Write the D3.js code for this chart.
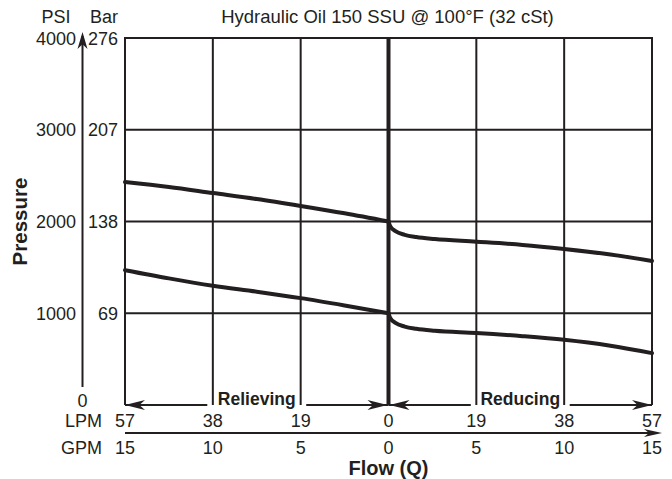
<!DOCTYPE html>
<html><head><meta charset="utf-8">
<script src="https://cdn.jsdelivr.net/npm/d3@7"></script>
<style>
html,body{margin:0;padding:0;background:#fff;}
svg{display:block;font-family:"Liberation Sans",Arial,Helvetica,sans-serif;}
</style></head>
<body><svg id="c" width="672" height="479"></svg>
<script>
// ---- data ----
const title = "Hydraulic Oil 150 SSU @ 100°F (32 cSt)";
const psiTicks = [1000, 2000, 3000, 4000];
const barTicks = [69, 138, 207, 276];
const lpmTicks = [-57, -38, -19, 0, 19, 38, 57];
const gpmTicks = [-15, -10, -5, 0, 5, 10, 15];
// flow in LPM (negative = relieving side), pressure in PSI
const relievingHigh = [[-57, 2430], [-47.5, 2375], [-38, 2310], [-28.5, 2245], [-19, 2170], [-9.5, 2090], [0, 2000]];
const relievingLow  = [[-57, 1470], [-47.5, 1380], [-38, 1300], [-28.5, 1235], [-19, 1165], [-9.5, 1085], [0, 1000]];
const reducingHigh  = [[0, 2000], [0.4, 1945], [1.5, 1895], [3.5, 1855], [6, 1830], [10, 1808], [19, 1780], [29, 1745], [38, 1700], [48, 1640], [57, 1570]];
const reducingLow   = [[0, 1000], [0.4, 945], [1.5, 895], [3.5, 855], [6, 830], [10, 808], [19, 785], [29, 750], [38, 710], [48, 645], [57, 565]];

const ink = "#231f20";
const svg = d3.select("#c");
const x = d3.scaleLinear().domain([-57, 57]).range([125, 652]);
const xg = d3.scaleLinear().domain([-15, 15]).range([125, 652]);
const y = d3.scaleLinear().domain([0, 4000]).range([405, 38]);

// grid
const g = svg.append("g");
g.selectAll("line.h").data(psiTicks).join("line")
  .attr("x1", x(-57)).attr("x2", x(57))
  .attr("y1", d => y(d)).attr("y2", d => y(d))
  .attr("stroke", ink).attr("stroke-width", 2);
g.selectAll("line.v").data(lpmTicks).join("line")
  .attr("x1", d => x(d)).attr("x2", d => x(d))
  .attr("y1", y(4000) - 1).attr("y2", y(0))
  .attr("stroke", ink).attr("stroke-width", d => d === 0 ? 4 : 2);

// curves
const line = d3.line().x(d => x(d[0])).y(d => y(d[1])).curve(d3.curveMonotoneX);
[relievingHigh, relievingLow, reducingHigh, reducingLow].forEach(s => {
  svg.append("path").attr("d", line(s)).attr("fill", "none")
    .attr("stroke", ink).attr("stroke-width", 4).attr("stroke-linecap", "round");
});

// arrowhead helper
function arrow(tx, ty, dir, L, w) {
  let p;
  if (dir === "l") p = [[tx, ty], [tx + L, ty - w], [tx + L * 0.72, ty], [tx + L, ty + w]];
  if (dir === "r") p = [[tx, ty], [tx - L, ty - w], [tx - L * 0.72, ty], [tx - L, ty + w]];
  if (dir === "u") p = [[tx, ty], [tx - w, ty + L], [tx, ty + L * 0.72], [tx + w, ty + L]];
  svg.append("path").attr("d", "M" + p.join("L") + "Z").attr("fill", ink);
}

// bottom flow arrows
const yb = y(0);
const segs = [[-57, -39.2], [-17.8, 0], [0, 17.8], [39.2, 57]];
segs.forEach(s => {
  svg.append("line").attr("x1", x(s[0])).attr("x2", x(s[1])).attr("y1", yb).attr("y2", yb)
    .attr("stroke", ink).attr("stroke-width", 2);
});
arrow(x(-57), yb, "l", 20, 5);
arrow(x(0) - 1, yb, "r", 20, 5);
arrow(x(0) + 1, yb, "l", 20, 5);
arrow(x(57), yb, "r", 20, 5);
svg.append("text").attr("x", x(-28.5)).attr("y", yb).attr("text-anchor", "middle")
  .attr("font-size", 17.5).attr("font-weight", "bold").attr("fill", ink).text("Relieving");
svg.append("text").attr("x", x(28.5)).attr("y", yb).attr("text-anchor", "middle")
  .attr("font-size", 17.5).attr("font-weight", "bold").attr("fill", ink).text("Reducing");

// pressure axis arrow
svg.append("line").attr("x1", 82.5).attr("x2", 82.5).attr("y1", 387).attr("y2", y(4000) - 2)
  .attr("stroke", ink).attr("stroke-width", 2);
arrow(82.5, 32, "u", 17, 5);

// tick labels
const fs = 18;
svg.selectAll("text.psi").data(psiTicks).join("text")
  .attr("x", 76).attr("y", d => y(d) + 6.5).attr("text-anchor", "end")
  .attr("font-size", fs).attr("fill", ink).text(d => d);
svg.selectAll("text.bar").data(barTicks).join("text")
  .attr("x", 118).attr("y", (d, i) => y(psiTicks[i]) + 6.5).attr("text-anchor", "end")
  .attr("font-size", fs).attr("fill", ink).text(d => d);
svg.append("text").attr("x", 82.5).attr("y", 407).attr("text-anchor", "middle")
  .attr("font-size", fs).attr("fill", ink).text("0");
svg.append("text").attr("x", 56).attr("y", 23).attr("text-anchor", "middle")
  .attr("font-size", fs).attr("fill", ink).text("PSI");
svg.append("text").attr("x", 104).attr("y", 23).attr("text-anchor", "middle")
  .attr("font-size", fs).attr("fill", ink).text("Bar");
svg.append("text").attr("x", 387.5).attr("y", 23).attr("text-anchor", "middle")
  .attr("font-size", 18.5).attr("fill", ink).text(title);

svg.selectAll("text.lpm").data(lpmTicks).join("text")
  .attr("x", d => x(d)).attr("y", 427).attr("text-anchor", "middle")
  .attr("font-size", fs).attr("fill", ink).text(d => Math.abs(d));
svg.selectAll("text.gpm").data(gpmTicks).join("text")
  .attr("x", d => xg(d)).attr("y", 454).attr("text-anchor", "middle")
  .attr("font-size", fs).attr("fill", ink).text(d => Math.abs(d));
svg.append("text").attr("x", 102).attr("y", 427).attr("text-anchor", "end")
  .attr("font-size", fs).attr("fill", ink).text("LPM");
svg.append("text").attr("x", 102).attr("y", 454).attr("text-anchor", "end")
  .attr("font-size", fs).attr("fill", ink).text("GPM");

// flow axis line
svg.append("line").attr("x1", x(-57)).attr("x2", 655).attr("y1", 433).attr("y2", 433)
  .attr("stroke", ink).attr("stroke-width", 2);
arrow(662, 433, "r", 18, 4);

// axis titles
svg.append("text").attr("x", x(0)).attr("y", 475).attr("text-anchor", "middle")
  .attr("font-size", 20).attr("font-weight", "bold").attr("fill", ink).text("Flow (Q)");
svg.append("text").attr("transform", "translate(27," + y(2000) + ") rotate(-90)")
  .attr("text-anchor", "middle").attr("font-size", 20.5).attr("font-weight", "bold")
  .attr("fill", ink).text("Pressure");
</script></body></html>
